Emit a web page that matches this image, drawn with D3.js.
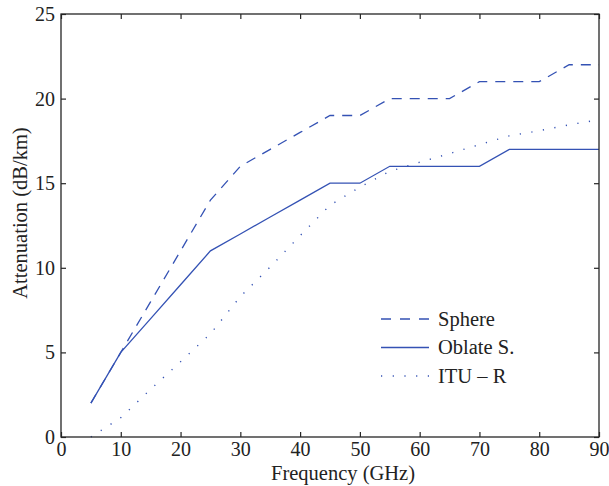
<!DOCTYPE html>
<html>
<head>
<meta charset="utf-8">
<script src="https://cdn.jsdelivr.net/npm/d3@7"></script>
<style>
  body { margin: 0; background: #fff; }
  text { font-family: "Liberation Serif", "Times New Roman", serif; fill: #222; }
</style>
</head>
<body>
<div id="chart"></div>
<script>
// frequency samples (GHz)
const freqs = [5, 10, 15, 20, 25, 30, 35, 40, 45, 50, 55, 60, 65, 70, 75, 80, 85, 90];
// attenuation (dB/km)
const sphere = [2, 5, 8, 11, 14, 16, 17, 18, 19, 19, 20, 20, 20, 21, 21, 21, 22, 22];
const oblate = [2, 5, 7, 9, 11, 12, 13, 14, 15, 15, 16, 16, 16, 16, 17, 17, 17, 17];
const itu = [0, 1.14, 2.82, 4.45, 6.1, 8.3, 10.05, 11.9, 13.7, 14.77, 15.7, 16.24, 16.75, 17.28, 17.8, 18.1, 18.45, 18.75];
const seriesNames = ["Sphere", "Oblate S.", "ITU \u2013 R"];
const xTicks = [0, 10, 20, 30, 40, 50, 60, 70, 80, 90];
const yTicks = [0, 5, 10, 15, 20, 25];

const W = 609, H = 486;
const margin = { top: 14, right: 10, bottom: 49, left: 61 };
const width = W - margin.left - margin.right;
const height = H - margin.top - margin.bottom;
const lineColor = "#3452b4";

const svg = d3.select("#chart").append("svg")
    .attr("width", W)
    .attr("height", H);
const g = svg.append("g")
    .attr("transform", `translate(${margin.left},${margin.top})`);

const x = d3.scaleLinear().domain([0, 90]).range([0, width]);
const y = d3.scaleLinear().domain([0, 25]).range([height, 0]);

// series lines
const series = [
    { name: seriesNames[0], values: sphere, dash: "10,8" },
    { name: seriesNames[1], values: oblate, dash: null },
    { name: seriesNames[2], values: itu, dash: "1.2,10.5" }
];
const line = d3.line()
    .x(d => x(d[0]))
    .y(d => y(d[1]));

g.selectAll(".series")
    .data(series)
    .enter()
    .append("path")
    .attr("class", "series")
    .attr("d", s => line(freqs.map((f, i) => [f, s.values[i]])))
    .attr("fill", "none")
    .attr("stroke", lineColor)
    .attr("stroke-width", s => s.dash === "1.2,10.5" ? 1.4 : 1.3)
    .attr("stroke-dasharray", s => s.dash);

// axes with inward ticks on all four sides
const tickLen = 5;
const axisStyle = sel => {
    sel.select(".domain").remove();
    sel.selectAll(".tick line").attr("stroke", "#262626").attr("stroke-width", 1.2);
    sel.selectAll("text").style("font-size", "20px").attr("fill", "#222");
};
g.append("g")
    .attr("transform", `translate(0,${height})`)
    .call(d3.axisBottom(x).tickValues(xTicks).tickSize(-tickLen).tickPadding(5))
    .call(axisStyle);
g.append("g")
    .call(d3.axisTop(x).tickValues(xTicks).tickSize(-tickLen).tickFormat(""))
    .call(axisStyle);
g.append("g")
    .call(d3.axisLeft(y).tickValues(yTicks).tickSize(-tickLen).tickPadding(6))
    .call(axisStyle);
g.append("g")
    .attr("transform", `translate(${width},0)`)
    .call(d3.axisRight(y).tickValues(yTicks).tickSize(-tickLen).tickFormat(""))
    .call(axisStyle);

// frame
g.append("rect")
    .attr("width", width)
    .attr("height", height)
    .attr("fill", "none")
    .attr("stroke", "#262626")
    .attr("stroke-width", 1.3);

// axis titles
svg.append("text")
    .attr("x", 343)
    .attr("y", 480)
    .attr("text-anchor", "middle")
    .style("font-size", "20.5px")
    .text("Frequency (GHz)");
svg.append("text")
    .attr("transform", "translate(27,213) rotate(-90)")
    .attr("text-anchor", "middle")
    .style("font-size", "20.5px")
    .text("Attenuation (dB/km)");

// legend
const legend = svg.append("g").attr("transform", "translate(381,319)");
series.forEach((s, i) => {
    const row = legend.append("g").attr("transform", `translate(0,${i * 28.5})`);
    row.append("line")
        .attr("x1", 0).attr("x2", 48)
        .attr("y1", 0).attr("y2", 0)
        .attr("stroke", lineColor)
        .attr("stroke-width", 1.3)
        .attr("stroke-dasharray", s.dash === "10,8" ? "10,9" : s.dash);
    row.append("text")
        .attr("x", 57)
        .attr("y", 0)
        .attr("dy", "0.33em")
        .style("font-size", "20.5px")
        .text(s.name);
});
</script>
</body>
</html>
